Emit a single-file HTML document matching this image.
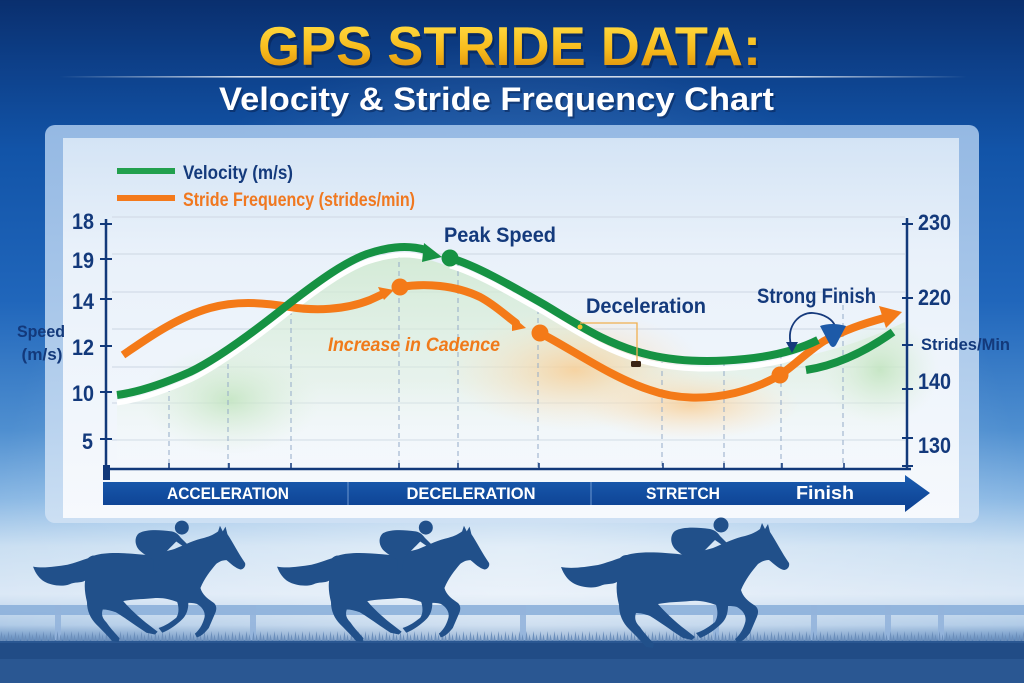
<!DOCTYPE html>
<html><head><meta charset="utf-8"><style>
html,body{margin:0;padding:0;width:1024px;height:683px;overflow:hidden;background:#1254a8;}
svg{display:block;font-family:"Liberation Sans","DejaVu Sans",sans-serif;font-weight:bold;}
</style></head><body>
<svg width="1024" height="683" viewBox="0 0 1024 683" xmlns="http://www.w3.org/2000/svg">
<defs>
<linearGradient id="bg" x1="0" y1="0" x2="0" y2="683" gradientUnits="userSpaceOnUse">
<stop offset="0" stop-color="#0a2f6e"/>
<stop offset="0.09" stop-color="#0d3f88"/>
<stop offset="0.22" stop-color="#1254a8"/>
<stop offset="0.44" stop-color="#2066bb"/>
<stop offset="0.63" stop-color="#4f8fd0"/>
<stop offset="0.73" stop-color="#8ab8e4"/>
<stop offset="0.80" stop-color="#cadff2"/>
<stop offset="0.87" stop-color="#dbe8f6"/>
<stop offset="0.915" stop-color="#b0cbe7"/>
<stop offset="0.935" stop-color="#6a92c2"/>
<stop offset="0.945" stop-color="#24508a"/>
<stop offset="1" stop-color="#2d5c98"/>
</linearGradient>
<radialGradient id="haze" cx="512" cy="560" r="520" gradientUnits="userSpaceOnUse">
<stop offset="0" stop-color="#ffffff" stop-opacity="0.45"/>
<stop offset="1" stop-color="#ffffff" stop-opacity="0"/>
</radialGradient>
<linearGradient id="outer" x1="0" y1="125" x2="0" y2="520" gradientUnits="userSpaceOnUse">
<stop offset="0" stop-color="#a3c4ea"/>
<stop offset="1" stop-color="#cfe1f4"/>
</linearGradient>
<linearGradient id="inner" x1="0" y1="138" x2="0" y2="518" gradientUnits="userSpaceOnUse">
<stop offset="0" stop-color="#d4e4f5"/>
<stop offset="0.3" stop-color="#e9f1fa"/>
<stop offset="1" stop-color="#f6f9fd"/>
</linearGradient>
<linearGradient id="gold" x1="0" y1="25" x2="0" y2="66" gradientUnits="userSpaceOnUse">
<stop offset="0" stop-color="#ffd83e"/>
<stop offset="0.6" stop-color="#f7bb1c"/>
<stop offset="1" stop-color="#e39a10"/>
</linearGradient>
<linearGradient id="tline" x1="59" y1="0" x2="967" y2="0" gradientUnits="userSpaceOnUse">
<stop offset="0" stop-color="#ffffff" stop-opacity="0"/>
<stop offset="0.2" stop-color="#ffffff" stop-opacity="0.8"/>
<stop offset="0.8" stop-color="#ffffff" stop-opacity="0.8"/>
<stop offset="1" stop-color="#ffffff" stop-opacity="0"/>
</linearGradient>
<linearGradient id="garea" x1="0" y1="250" x2="0" y2="470" gradientUnits="userSpaceOnUse">
<stop offset="0" stop-color="#cfe9cf" stop-opacity="0.85"/>
<stop offset="0.6" stop-color="#dff0de" stop-opacity="0.5"/>
<stop offset="1" stop-color="#ffffff" stop-opacity="0"/>
</linearGradient>
<radialGradient id="oglow" cx="0.5" cy="0.5" r="0.5">
<stop offset="0" stop-color="#fbc98a" stop-opacity="0.75"/>
<stop offset="1" stop-color="#fde4c4" stop-opacity="0"/>
</radialGradient>
<radialGradient id="gglow" cx="0.5" cy="0.5" r="0.5">
<stop offset="0" stop-color="#bfe3bc" stop-opacity="0.8"/>
<stop offset="1" stop-color="#dff0de" stop-opacity="0"/>
</radialGradient>
<linearGradient id="bar" x1="0" y1="475" x2="0" y2="512" gradientUnits="userSpaceOnUse">
<stop offset="0" stop-color="#1a5cb0"/>
<stop offset="1" stop-color="#0c3f90"/>
</linearGradient>
<pattern id="grass" x="0" y="626" width="7" height="16" patternUnits="userSpaceOnUse">
<path d="M0,16 L1.5,5 L3,16 L4.5,8 L6,16 Z" fill="#6c8fbb"/>
</pattern>
<g id="horse">
<path d="M87,50 C100,46 120,47 147,50 C158,47 166,45 173,43 C185,38 195,33 205,31 C212,29 216,27 220,24 L222,18 L225,24 L228,19 L230,27 C236,36 242,48 249,58 C250,62 247,65 244,65 C239,64 234,59 229,55 C224,55 221,57 218,59 C212,66 205,75 201,85 C203,92 208,96 214,100 C219,103 219,108 216,114 L210,128 C206,133 202,137 197,138 L195,134 C199,131 203,125 205,118 C207,112 204,106 197,102 C193,101 190,101 188,101 C188,108 186,114 182,118 C176,124 168,130 160,133 L156,128 C163,126 170,121 175,117 C178,112 178,106 176,100 C168,97 160,95 150,96 C140,97 128,97 118,99 C124,106 134,116 146,125 L155,132 L152,135 L143,133 C132,126 120,117 110,111 C105,109 100,108 96,108 C94,114 96,118 100,122 C104,128 109,133 114,139 L113,143 L106,142 C101,136 95,130 89,124 C83,118 79,110 79,100 C77,92 76,84 77,77 C72,80 66,78 60,81 C52,84 40,82 33,78 C28,75 24,70 21,62 C32,64 45,62 58,60 C66,58 74,55 80,53 C82,51 84,50 87,50 Z"/>
<path d="M135,44 C130,38 130,30 135,26 C142,22 155,22 170,24 C175,25 178,28 180,31 L188,39 L185,42 L175,35 C170,40 162,48 157,54 L155,68 L151,68 L151,55 C146,52 140,49 135,44 Z"/>
<circle cx="181" cy="20" r="7.5"/>
</g>
</defs>

<!-- background -->
<rect x="0" y="0" width="1024" height="683" fill="url(#bg)"/>
<rect x="0" y="0" width="1024" height="640" fill="url(#haze)"/>

<!-- title -->
<text x="260" y="68" font-size="55" textLength="503" lengthAdjust="spacingAndGlyphs" fill="#061f4e" fill-opacity="0.55">GPS STRIDE DATA:</text>
<text x="258" y="65" font-size="55" textLength="503" lengthAdjust="spacingAndGlyphs" fill="url(#gold)">GPS STRIDE DATA:</text>
<rect x="59" y="76" width="908" height="1.6" fill="url(#tline)"/>
<text x="221" y="112" font-size="32" textLength="555" lengthAdjust="spacingAndGlyphs" fill="#061f4e" fill-opacity="0.5">Velocity &amp; Stride Frequency Chart</text>
<text x="219" y="110" font-size="32" textLength="555" lengthAdjust="spacingAndGlyphs" fill="#ffffff">Velocity &amp; Stride Frequency Chart</text>

<!-- panels -->
<rect x="45" y="125" width="934" height="398" rx="10" fill="url(#outer)" fill-opacity="0.9"/>
<rect x="63" y="138" width="896" height="380" fill="url(#inner)"/>

<!-- legend -->
<rect x="117" y="168" width="58" height="6" fill="#22a04e"/>
<rect x="117" y="195" width="58" height="6" fill="#f47a1c"/>
<text x="183" y="179" font-size="19" textLength="110" lengthAdjust="spacingAndGlyphs" fill="#143a7c">Velocity (m/s)</text>
<text x="183" y="206" font-size="19" textLength="232" lengthAdjust="spacingAndGlyphs" fill="#f07820">Stride Frequency (strides/min)</text>

<!-- gridlines -->
<g stroke="#d3dce8" stroke-width="1.2">
<line x1="112" y1="217" x2="905" y2="217"/>
<line x1="112" y1="254" x2="905" y2="254"/>
<line x1="112" y1="292" x2="905" y2="292"/>
<line x1="112" y1="329" x2="905" y2="329"/>
<line x1="112" y1="367" x2="905" y2="367"/>
<line x1="112" y1="403" x2="905" y2="403"/>
<line x1="112" y1="440" x2="905" y2="440"/>
</g>

<!-- area fills / glows -->
<path d="M117,405 C140,402 165,393 190,382 C215,370 250,345 290,313 C320,290 345,272 367,264 C385,258 405,254 430,260 C475,274 510,294 545,314 C580,335 610,355 650,364 C680,371 715,371 745,368 C775,365 800,358 830,350 C860,342 880,333 905,322 L905,470 L117,470 Z" fill="url(#garea)"/>
<ellipse cx="575" cy="370" rx="130" ry="60" fill="url(#oglow)"/>
<ellipse cx="690" cy="405" rx="110" ry="35" fill="url(#oglow)"/>
<ellipse cx="880" cy="370" rx="60" ry="55" fill="url(#gglow)"/>
<ellipse cx="230" cy="400" rx="90" ry="55" fill="url(#gglow)"/>

<!-- dashed verticals -->
<g stroke="#94abc8" stroke-width="1" stroke-dasharray="5 4">
<line x1="169" y1="387" x2="169" y2="469"/>
<line x1="228" y1="355" x2="228" y2="469"/>
<line x1="291" y1="310" x2="291" y2="469"/>
<line x1="399" y1="253" x2="399" y2="469"/>
<line x1="458" y1="262" x2="458" y2="469"/>
<line x1="538" y1="300" x2="538" y2="469"/>
<line x1="662" y1="362" x2="662" y2="469"/>
<line x1="724" y1="362" x2="724" y2="469"/>
<line x1="781" y1="355" x2="781" y2="469"/>
<line x1="843" y1="305" x2="843" y2="469"/>
</g>

<!-- axes -->
<g stroke="#12397a" stroke-width="2.5" fill="none">
<line x1="106" y1="219" x2="106" y2="478"/>
<line x1="106" y1="469" x2="911" y2="469"/>
<line x1="907" y1="218" x2="907" y2="468"/>
</g>
<rect x="103" y="465" width="7" height="15" fill="#12397a"/>
<g stroke="#12397a" stroke-width="2">
<line x1="100" y1="224" x2="112" y2="224"/>
<line x1="100" y1="259" x2="112" y2="259"/>
<line x1="100" y1="299" x2="112" y2="299"/>
<line x1="100" y1="346" x2="112" y2="346"/>
<line x1="100" y1="392" x2="112" y2="392"/>
<line x1="100" y1="439" x2="112" y2="439"/>
<line x1="902" y1="224" x2="913" y2="224"/>
<line x1="902" y1="298" x2="913" y2="298"/>
<line x1="902" y1="345" x2="913" y2="345"/>
<line x1="902" y1="389" x2="913" y2="389"/>
<line x1="902" y1="438" x2="913" y2="438"/>
<line x1="902" y1="466" x2="913" y2="466"/>
</g>
<g stroke="#12397a" stroke-width="1.5">
<line x1="169" y1="463" x2="169" y2="469"/><line x1="229" y1="463" x2="229" y2="469"/>
<line x1="291" y1="463" x2="291" y2="469"/><line x1="399" y1="463" x2="399" y2="469"/>
<line x1="458" y1="463" x2="458" y2="469"/><line x1="539" y1="463" x2="539" y2="469"/>
<line x1="663" y1="463" x2="663" y2="469"/><line x1="724" y1="463" x2="724" y2="469"/>
<line x1="782" y1="463" x2="782" y2="469"/><line x1="844" y1="463" x2="844" y2="469"/>
</g>

<!-- left labels -->
<g fill="#13397b" font-size="22" text-anchor="end">
<text x="94" y="229" textLength="22" lengthAdjust="spacingAndGlyphs">18</text>
<text x="94" y="268" textLength="22" lengthAdjust="spacingAndGlyphs">19</text>
<text x="94" y="309" textLength="22" lengthAdjust="spacingAndGlyphs">14</text>
<text x="94" y="355" textLength="22" lengthAdjust="spacingAndGlyphs">12</text>
<text x="94" y="401" textLength="22" lengthAdjust="spacingAndGlyphs">10</text>
<text x="93" y="449" textLength="11" lengthAdjust="spacingAndGlyphs">5</text>
</g>
<g fill="#13397b" font-size="17" text-anchor="middle">
<text x="41" y="337" textLength="48" lengthAdjust="spacingAndGlyphs">Speed</text>
<text x="42" y="360" textLength="41" lengthAdjust="spacingAndGlyphs">(m/s)</text>
</g>
<!-- right labels -->
<g fill="#13397b" font-size="22">
<text x="918" y="230" textLength="33" lengthAdjust="spacingAndGlyphs">230</text>
<text x="918" y="305" textLength="33" lengthAdjust="spacingAndGlyphs">220</text>
<text x="918" y="389" textLength="33" lengthAdjust="spacingAndGlyphs">140</text>
<text x="918" y="453" textLength="33" lengthAdjust="spacingAndGlyphs">130</text>
</g>
<text x="921" y="350" font-size="17" fill="#13397b" textLength="89" lengthAdjust="spacingAndGlyphs">Strides/Min</text>

<!-- white highlight under green -->
<path d="M117,403 C140,400 165,391 190,380 C215,368 250,343 290,311 C320,288 345,270 367,262 C385,256 405,252 426,258 M450,266 C475,273 510,293 545,313 C580,334 610,354 650,363 C680,370 715,370 745,367 C775,364 800,357 818,348" fill="none" stroke="#ffffff" stroke-width="5"/>

<!-- orange series -->
<g fill="none" stroke="#f47a18" stroke-width="8" stroke-linecap="round">
<path d="M123,355 C145,340 175,318 210,308 C235,301 260,302 290,307 C315,311 345,310 370,300 L383,294" stroke-linecap="butt"/>
<path d="M400,287 C425,283 455,285 480,297 C495,305 505,315 516,323"/>
<path d="M540,333 C570,348 610,377 650,390 C675,399 705,400 735,393 C755,388 768,382 780,375"/>
<path d="M780,375 C795,365 808,351 824,341 C845,330 862,324 884,318"/>
</g>
<g fill="#f47a18">
<polygon points="378,287 394,290 384,300"/>
<polygon points="512,316 526,328 512,331"/>
<polygon points="879,306 902,312 886,328"/>
<circle cx="400" cy="287" r="8.5"/>
<circle cx="540" cy="333" r="8.5"/>
<circle cx="780" cy="375" r="8.5"/>
</g>

<!-- green series -->
<g fill="none" stroke="#169243" stroke-width="8">
<path d="M117,395 C140,392 165,383 190,372 C215,360 250,335 290,303 C320,280 345,262 367,254 C385,248 405,244 426,250"/>
<path d="M450,258 C475,265 510,285 545,305 C580,326 610,346 650,355 C680,362 715,362 745,359 C775,356 800,349 818,340"/>
<path d="M806,370 C832,366 862,354 893,332"/>
</g>
<g fill="#169243">
<polygon points="424,243 442,257 422,262"/>
<circle cx="450" cy="258" r="8.5"/>
</g>

<!-- deceleration bracket -->
<g stroke="#f0b050" stroke-width="1.3" fill="none">
<polyline points="580,323 637,323 637,363"/>
</g>
<circle cx="580" cy="327" r="2.5" fill="#f5c030"/>
<rect x="631" y="361" width="10" height="6" rx="1.5" fill="#3a2414"/>

<!-- strong finish arrow -->
<path d="M791,345 C786,325 800,312 813,313 C825,314 833,320 835,326" fill="none" stroke="#163a7c" stroke-width="1.8"/>
<polygon points="786,342 798,342 792,353" fill="#163a7c"/>
<path d="M820,326 Q832,322 846,326 L836,345 Q833,349 830,345 Z" fill="#1d5aa8"/>

<!-- annotations -->
<text x="444" y="242" font-size="21" fill="#143a7c" textLength="112" lengthAdjust="spacingAndGlyphs">Peak Speed</text>
<text x="328" y="351" font-size="19" font-style="italic" fill="#f07a1a" textLength="172" lengthAdjust="spacingAndGlyphs">Increase in Cadence</text>
<text x="586" y="313" font-size="21" fill="#143a7c" textLength="120" lengthAdjust="spacingAndGlyphs">Deceleration</text>
<text x="757" y="303" font-size="21" fill="#143a7c" textLength="119" lengthAdjust="spacingAndGlyphs">Strong Finish</text>

<!-- phase bar -->
<path d="M103,482 L905,482 L905,475 L930,493 L905,512 L905,505 L103,505 Z" fill="url(#bar)"/>
<line x1="348" y1="482" x2="348" y2="505" stroke="#6d97cf" stroke-width="1"/>
<line x1="591" y1="482" x2="591" y2="505" stroke="#6d97cf" stroke-width="1"/>
<g fill="#ffffff" font-size="17" text-anchor="middle">
<text x="228" y="499" textLength="122" lengthAdjust="spacingAndGlyphs">ACCELERATION</text>
<text x="471" y="499" textLength="129" lengthAdjust="spacingAndGlyphs">DECELERATION</text>
<text x="683" y="499" textLength="74" lengthAdjust="spacingAndGlyphs">STRETCH</text>
<text x="825" y="499" font-size="18" textLength="58" lengthAdjust="spacingAndGlyphs">Finish</text>
</g>

<!-- fence -->
<rect x="0" y="605" width="1024" height="10" fill="#8cb0da" fill-opacity="0.9"/>
<g fill="#93b4dc" fill-opacity="0.9">
<rect x="55" y="605" width="6" height="35"/>
<rect x="250" y="605" width="6" height="35"/>
<rect x="520" y="605" width="6" height="35"/>
<rect x="713" y="605" width="6" height="35"/>
<rect x="811" y="605" width="6" height="35"/>
<rect x="885" y="605" width="6" height="35"/>
<rect x="938" y="605" width="6" height="35"/>
</g>
<rect x="0" y="626" width="1024" height="16" fill="url(#grass)"/>
<rect x="0" y="641" width="1024" height="42" fill="#2a5792"/>
<rect x="0" y="643" width="1024" height="16" fill="#214c86"/>

<!-- horses -->
<g fill="#21508a">
<use href="#horse" transform="translate(13.5,509) scale(0.93)"/>
<use href="#horse" transform="translate(257.5,509) scale(0.93)"/>
<use href="#horse" transform="translate(540,505)"/>
</g>
</svg>
</body></html>
